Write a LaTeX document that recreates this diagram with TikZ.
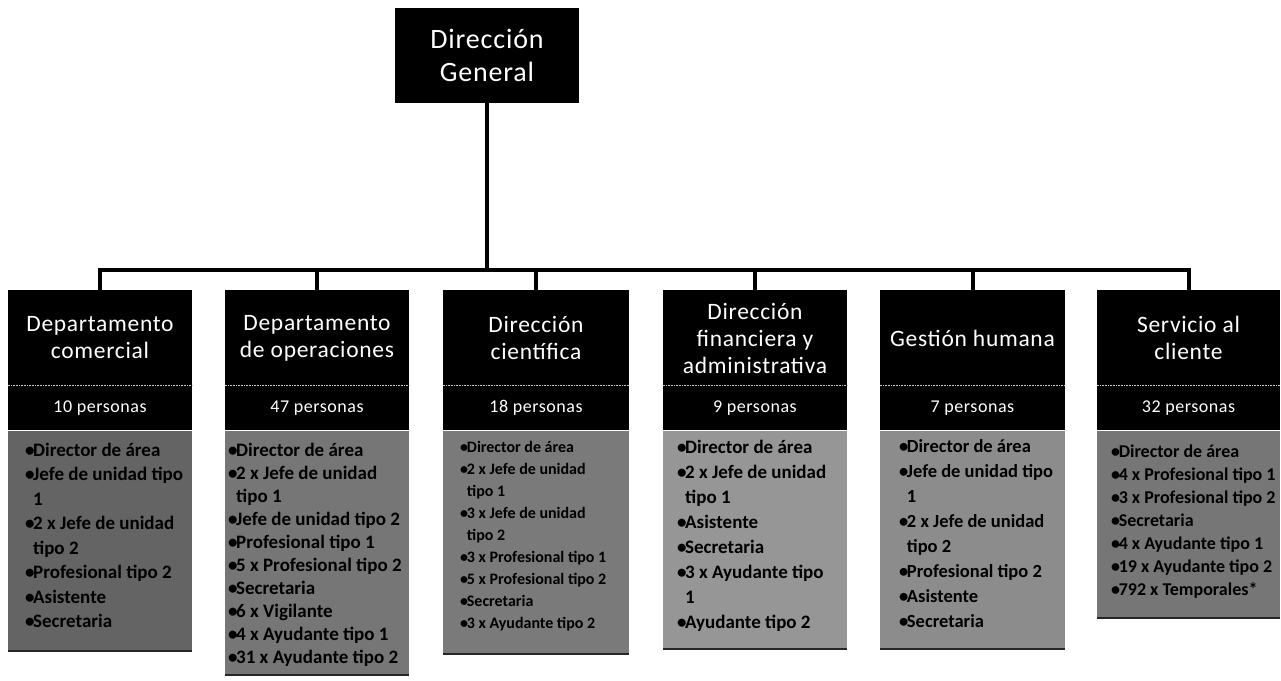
\documentclass[tikz,border=0pt]{standalone}
\usepackage{fontspec}
\setmainfont{Carlito}
\newfontfamily\hdfont[LetterSpace=3]{Carlito}
\newcommand\Bu{\makebox[0.42em][l]{•}}
\newcommand\Co{\hspace*{0.42em}}
\definecolor{lg1}{RGB}{100,100,100}
\definecolor{lg2}{RGB}{118,118,118}
\definecolor{lg3}{RGB}{122,122,122}
\definecolor{lg4}{RGB}{150,150,150}
\definecolor{lg5}{RGB}{140,140,140}
\definecolor{lg6}{RGB}{118,118,118}
\tikzset{
  topbox/.style={rectangle, fill=black, inner sep=0pt, minimum width=184pt, minimum height=95pt,
    text=white, align=center, font=\hdfont\fontsize{28}{33}\selectfont},
  hdr/.style={rectangle, fill=black, inner sep=0pt, minimum width=184pt, minimum height=140pt},
  ttl/.style={text=white, inner sep=0pt, align=center, font=\hdfont\fontsize{23.5}{27}\selectfont},
  pers/.style={text=white, inner sep=0pt, font=\hdfont\fontsize{18}{21}\selectfont},
  lst/.style={rectangle, inner sep=0pt, minimum width=184pt},
  itm/.style={anchor=north west, inner sep=0pt, align=left, text=black},
  conn/.style={line width=4pt, line join=miter},
  sepl/.style={gray!45, line width=0.6pt, densely dotted},
  edge/.style={black!85, line width=2.5pt}
}
\begin{document}
\begin{tikzpicture}[x=1pt,y=-1pt]
\useasboundingbox (0,0) rectangle (1281,680);
\fill[white] (0,0) rectangle (1281,680);

\node[topbox] (dg) at (487,55.5) {Dirección\\General};
\coordinate (bar) at (0,270);

% headers
\node[hdr] (h1) at (100,360) {};
\node[hdr] (h2) at (317,360) {};
\node[hdr, minimum width=186pt] (h3) at (536,360) {};
\node[hdr] (h4) at (755,360) {};
\node[hdr, minimum width=185pt] (h5) at (972.5,360) {};
\node[hdr, minimum width=183pt] (h6) at (1188.5,360) {};

\foreach \i in {1,...,6}{
  \draw[sepl] (h\i.west |- 0,385) -- (h\i.east |- 0,385);
  \draw[conn] (dg.south) -- (dg.south |- bar) -| (h\i.north);
}

\node[ttl] (t1) at (100,338) {Departamento\\comercial};
\node[ttl] (t2) at (317,338) {Departamento\\de operaciones};
\node[ttl] (t3) at (536,338) {Dirección\\científica};
\node[ttl] (t4) at (755,338) {Dirección\\financiera y\\administrativa};
\node[ttl] (t5) at (972.5,338) {Gestión humana};
\node[ttl] (t6) at (1188.5,338) {Servicio al\\cliente};

\node[pers] (p1) at (100,408) {10 personas};
\node[pers] (p2) at (317,408) {47 personas};
\node[pers] (p3) at (536,408) {18 personas};
\node[pers] (p4) at (755,408) {9 personas};
\node[pers] (p5) at (972.5,408) {7 personas};
\node[pers] (p6) at (1188.5,408) {32 personas};

% list areas
\node[lst, fill=lg1, minimum height=221pt, anchor=north] (l1) at (100,431) {};
\node[lst, fill=lg2, minimum height=245pt, anchor=north] (l2) at (317,431) {};
\node[lst, fill=lg3, minimum height=224pt, minimum width=186pt, anchor=north] (l3) at (536,431) {};
\node[lst, fill=lg4, minimum height=219pt, anchor=north] (l4) at (755,431) {};
\node[lst, fill=lg5, minimum height=219pt, minimum width=185pt, anchor=north] (l5) at (972.5,431) {};
\node[lst, fill=lg6, minimum height=188pt, minimum width=183pt, anchor=north] (l6) at (1188.5,431) {};

\foreach \i in {1,...,6}{
  \draw[edge] ([yshift=1.2pt]l\i.south west) -- ([yshift=1.2pt]l\i.south east);
}

\node[itm, font=\bfseries\fontsize{19}{24.5}\selectfont] (i1) at (25,442.6) {%
\Bu Director de área\\
\Bu Jefe de unidad tipo\\
\Co 1\\
\Bu 2 x Jefe de unidad\\
\Co tipo 2\\
\Bu Profesional tipo 2\\
\Bu Asistente\\
\Bu Secretaria};

\node[itm, font=\bfseries\fontsize{19}{23}\selectfont] (i2) at (228,442.6) {%
\Bu Director de área\\
\Bu 2 x Jefe de unidad\\
\Co tipo 1\\
\Bu Jefe de unidad tipo 2\\
\Bu Profesional tipo 1\\
\Bu 5 x Profesional tipo 2\\
\Bu Secretaria\\
\Bu 6 x Vigilante\\
\Bu 4 x Ayudante tipo 1\\
\Bu 31 x Ayudante tipo 2};

\node[itm, font=\bfseries\fontsize{16}{22}\selectfont] (i3) at (460,440.8) {%
\Bu Director de área\\
\Bu 2 x Jefe de unidad\\
\Co tipo 1\\
\Bu 3 x Jefe de unidad\\
\Co tipo 2\\
\Bu 3 x Profesional tipo 1\\
\Bu 5 x Profesional tipo 2\\
\Bu Secretaria\\
\Bu 3 x Ayudante tipo 2};

\node[itm, font=\bfseries\fontsize{19}{25}\selectfont] (i4) at (677,439.6) {%
\Bu Director de área\\
\Bu 2 x Jefe de unidad\\
\Co tipo 1\\
\Bu Asistente\\
\Bu Secretaria\\
\Bu 3 x Ayudante tipo\\
\Co 1\\
\Bu Ayudante tipo 2};

\node[itm, font=\bfseries\fontsize{18.5}{25}\selectfont] (i5) at (899,439.8) {%
\Bu Director de área\\
\Bu Jefe de unidad tipo\\
\Co 1\\
\Bu 2 x Jefe de unidad\\
\Co tipo 2\\
\Bu Profesional tipo 2\\
\Bu Asistente\\
\Bu Secretaria};

\node[itm, font=\bfseries\fontsize{18}{23}\selectfont] (i6) at (1111,445) {%
\Bu Director de área\\
\Bu 4 x Profesional tipo 1\\
\Bu 3 x Profesional tipo 2\\
\Bu Secretaria\\
\Bu 4 x Ayudante tipo 1\\
\Bu 19 x Ayudante tipo 2\\
\Bu 792 x Temporales*};
\end{tikzpicture}
\end{document}
